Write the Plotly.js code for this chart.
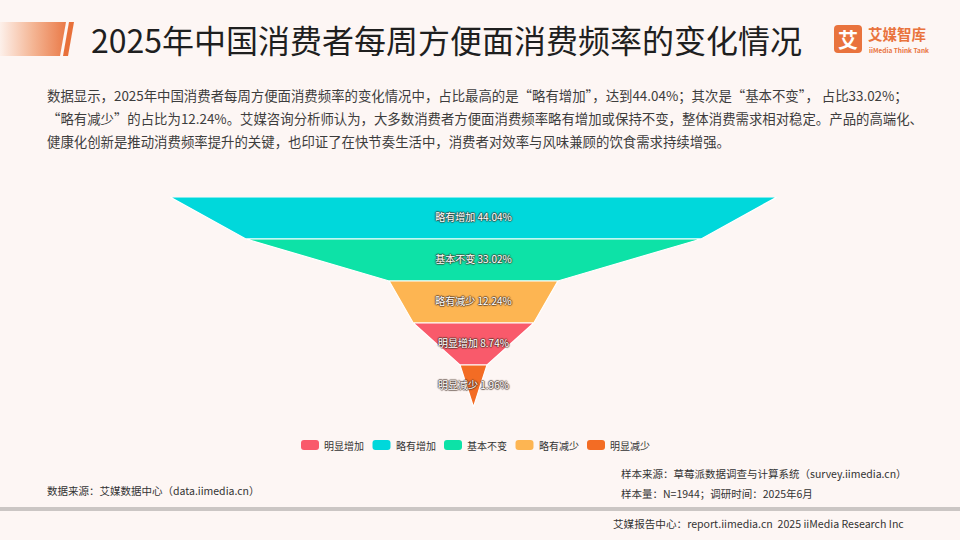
<!DOCTYPE html>
<html>
<head>
<meta charset="utf-8">
<script src="https://cdn.plot.ly/plotly-3.0.1.min.js"></script>
<style>html,body{margin:0;padding:0;background:#fdf6f4;}#chart{width:960px;height:540px;}</style>
</head>
<body>
<div id="chart"></div>
<script>
// ---- data ----
const categories = ['明显增加', '略有增加', '基本不变', '略有减少', '明显减少'];
const values = [8.74, 44.04, 33.02, 12.24, 1.96];
const seriesColors = ['#f95a6b', '#00d8db', '#0de2a7', '#fdb552', '#f36c24'];

const titleText = '2025年中国消费者每周方便面消费频率的变化情况';
const paragraph = [
  '数据显示，2025年中国消费者每周方便面消费频率的变化情况中，占比最高的是“略有增加”，达到44.04%；其次是“基本不变”， 占比33.02%；',
  '“略有减少”的占比为12.24%。艾媒咨询分析师认为，大多数消费者方便面消费频率略有增加或保持不变，整体消费需求相对稳定。产品的高端化、',
  '健康化创新是推动消费频率提升的关键，也印证了在快节奏生活中，消费者对效率与风味兼顾的饮食需求持续增强。'
];
const sourceLeft = '数据来源：艾媒数据中心（data.iimedia.cn）';
const sourceRight1 = '样本来源：草莓派数据调查与计算系统（survey.iimedia.cn）';
const sourceRight2 = '样本量：N=1944；调研时间：2025年6月';
const footerText = '艾媒报告中心：report.iimedia.cn  2025 iiMedia Research Inc';

// ---- layout geometry ----
const W = 960, H = 540;
const M = {l: 170, r: 183, t: 197, b: 133};
const PW = W - M.l - M.r, PH = H - M.t - M.b;
const px2x = p => (p - M.l) / PW;
const py2y = p => (H - M.b - p) / PH;
const FONT = '"Noto Sans CJK SC", "Noto Sans", sans-serif';

// sort descending for funnel
const order = values.map((v, i) => i).sort((a, b) => values[b] - values[a]);
const maxV = Math.max(...values);
const N = order.length;

const traces = [];
order.forEach((idx, k) => {
  const v = values[idx];
  const next = k + 1 < N ? values[order[k + 1]] : 0;
  traces.push({
    type: 'scatter', mode: 'lines', fill: 'toself',
    x: [-v / 2, v / 2, next / 2, -next / 2, -v / 2],
    y: [k, k, k + 1, k + 1, k],
    fillcolor: seriesColors[idx],
    line: {color: '#ffffff', width: 1.2},
    hoverinfo: 'skip', showlegend: false, name: categories[idx]
  });
});
traces.push({
  type: 'scatter', mode: 'text',
  x: order.map(() => 0),
  y: order.map((idx, k) => k + 0.5),
  text: order.map(idx => categories[idx] + ' ' + values[idx].toFixed(2) + '%'),
  textposition: 'middle center',
  textfont: {family: FONT, size: 10, color: '#ffffff',
    shadow: '1px 0px 1px rgba(70,50,40,0.75), -1px 0px 1px rgba(70,50,40,0.75), 0px 1px 1px rgba(70,50,40,0.75), 0px -1px 1px rgba(70,50,40,0.75)'},
  hoverinfo: 'skip', showlegend: false
});

const annotations = [];
const shapes = [];
function addText(text, px, py, size, color, opts) {
  annotations.push(Object.assign({
    text: text, xref: 'paper', yref: 'paper', x: px2x(px), y: py2y(py),
    xanchor: 'left', yanchor: 'middle', showarrow: false, borderpad: 0,
    font: {family: FONT, size: size, color: color}
  }, opts || {}));
}
addText(titleText, 90, 39, 32, '#1f1f1f');
paragraph.forEach((line, i) => addText(line, 46, 95 + i * 23, 13.4, '#3d3d3d'));
addText(sourceLeft, 46, 490, 10.5, '#333333');
addText(sourceRight1, 620, 473, 10.5, '#333333');
addText(sourceRight2, 620, 493, 10.5, '#333333');
addText(footerText, 612, 523, 10.6, '#333333');

// logo
function rrect(cx, cy, w, h, r) {
  const hw = w / 2, hh = h / 2;
  return `M${-hw + r},${-hh} L${hw - r},${-hh} Q${hw},${-hh} ${hw},${-hh + r} L${hw},${hh - r} Q${hw},${hh} ${hw - r},${hh} L${-hw + r},${hh} Q${-hw},${hh} ${-hw},${hh - r} L${-hw},${-hh + r} Q${-hw},${-hh} ${-hw + r},${-hh} Z`;
}
shapes.push({type: 'path', xref: 'paper', yref: 'paper', xsizemode: 'pixel', ysizemode: 'pixel',
  xanchor: px2x(848), yanchor: py2y(39), path: rrect(0, 0, 28, 28, 4),
  fillcolor: '#e9733d', line: {width: 0}});
addText('<b>艾</b>', 848, 39, 20, '#ffffff', {xanchor: 'center'});
addText('<b>艾媒智库</b>', 867, 33, 14.5, '#e9733d', {yanchor: 'middle'});
addText('<b>iiMedia Think Tank</b>', 868, 50, 6.5, '#e9733d', {yanchor: 'middle'});

// gray footer bar
shapes.push({type: 'rect', xref: 'paper', yref: 'paper', x0: px2x(0), x1: px2x(W),
  y0: py2y(507), y1: py2y(511), fillcolor: '#cbc6c4', line: {width: 0}});

// legend (manual, original category order)
categories.forEach((c, i) => {
  const sx = 310 + i * 71.5;
  shapes.push({type: 'path', xref: 'paper', yref: 'paper', xsizemode: 'pixel', ysizemode: 'pixel',
    xanchor: px2x(sx), yanchor: py2y(445), path: rrect(0, 0, 18, 10, 3),
    fillcolor: seriesColors[i], line: {width: 0}});
  addText(c, sx + 13, 445, 10, '#333333');
});

// header bar image
const svg = "<svg xmlns='http://www.w3.org/2000/svg' width='80' height='34' viewBox='0 0 80 34'>" +
  "<defs><linearGradient id='g' x1='0' x2='1' y1='0' y2='0'>" +
  "<stop offset='0' stop-color='#fdf0ea'/><stop offset='0.5' stop-color='#f4b594'/><stop offset='1' stop-color='#ea7a48'/></linearGradient></defs>" +
  "<polygon points='0,0 66,0 60,34 0,34' fill='url(#g)'/>" +
  "<polygon points='69,0 74,0 68,34 63,34' fill='#e8703a'/></svg>";

const layout = {
  width: W, height: H,
  margin: M,
  paper_bgcolor: '#fdf6f4', plot_bgcolor: 'rgba(0,0,0,0)',
  xaxis: {range: [-maxV / 2, maxV / 2], visible: false, fixedrange: true},
  yaxis: {range: [N, 0], visible: false, fixedrange: true},
  showlegend: false,
  annotations: annotations,
  shapes: shapes,
  images: [{
    source: 'data:image/svg+xml;charset=utf-8,' + encodeURIComponent(svg),
    xref: 'paper', yref: 'paper', x: px2x(0), y: py2y(22),
    sizex: 80 / PW, sizey: 34 / PH, xanchor: 'left', yanchor: 'top', sizing: 'stretch', layer: 'above'
  }]
};

Plotly.newPlot('chart', traces, layout, {displayModeBar: false, staticPlot: true});
</script>
</body>
</html>
